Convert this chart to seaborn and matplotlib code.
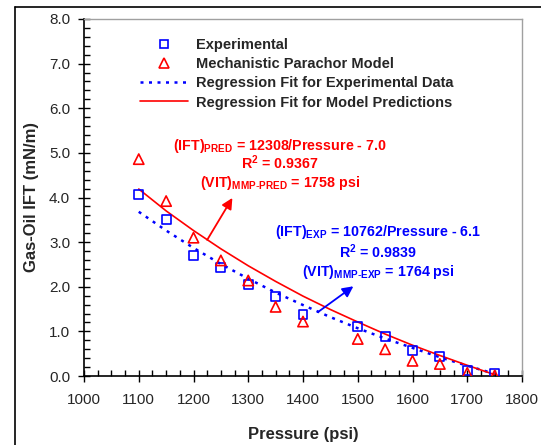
import matplotlib
matplotlib.use('Agg')
import matplotlib.pyplot as plt
from matplotlib.ticker import MultipleLocator, FormatStrFormatter
from matplotlib.lines import Line2D
import seaborn as sns
import pandas as pd

sns.set_style('white')
plt.rcParams['font.family'] = ['Liberation Sans', 'DejaVu Sans']

p_exp = [1100, 1150, 1200, 1250, 1300, 1350, 1400, 1500, 1550, 1600, 1650, 1700, 1750]
ift_exp = [4.06, 3.50, 2.70, 2.44, 2.05, 1.79, 1.37, 1.11, 0.88, 0.57, 0.43, 0.13, 0.06]
p_mod = [1100, 1150, 1200, 1250, 1300, 1350, 1400, 1500, 1550, 1600, 1650, 1700, 1750]
ift_mod = [4.86, 3.92, 3.10, 2.59, 2.14, 1.55, 1.22, 0.83, 0.60, 0.34, 0.27, 0.07, 0.01]

# regression curves
p_fit = [1100, 1150, 1200, 1250, 1300, 1350, 1400, 1450, 1500, 1550, 1600, 1650, 1700, 1750]
fit_exp = [3.68, 3.26, 2.87, 2.51, 2.18, 1.87, 1.59, 1.32, 1.07, 0.84, 0.63, 0.42, 0.23, 0.05]
fit_mod = [4.19, 3.70, 3.26, 2.85, 2.47, 2.12, 1.79, 1.49, 1.21, 0.94, 0.69, 0.46, 0.24, 0.03]

exp_df = pd.DataFrame({'Pressure': p_exp, 'IFT': ift_exp})
mod_df = pd.DataFrame({'Pressure': p_mod, 'IFT': ift_mod})
fit_df = pd.DataFrame({'Pressure': p_fit, 'exp': fit_exp, 'mod': fit_mod})

BLUE = '#0000ff'
RED = '#ff0000'

fig = plt.figure(figsize=(5.41, 4.45), dpi=100)
ax = fig.add_axes([84/541, 1-376/445, 438/541, 357/445])

sns.lineplot(data=fit_df, x='Pressure', y='exp', ax=ax, color=BLUE, lw=1.8,
             dashes=False, linestyle=(0, (1.2, 2.2)), zorder=2)
sns.lineplot(data=fit_df, x='Pressure', y='mod', ax=ax, color=RED, lw=1.2, zorder=2)
sns.scatterplot(data=exp_df, x='Pressure', y='IFT', ax=ax, marker='s', s=40,
                facecolor='none', edgecolor=BLUE, linewidth=1.2, zorder=3)
sns.scatterplot(data=mod_df, x='Pressure', y='IFT', ax=ax, marker='^', s=55,
                facecolor='none', edgecolor=RED, linewidth=1.2, zorder=3)

ax.set_xlim(1000, 1800)
ax.set_ylim(0, 8)
ax.xaxis.set_major_locator(MultipleLocator(100))
ax.xaxis.set_minor_locator(MultipleLocator(25))
ax.yaxis.set_major_locator(MultipleLocator(1))
ax.yaxis.set_minor_locator(MultipleLocator(0.2))
ax.yaxis.set_major_formatter(FormatStrFormatter('%.1f'))
ax.tick_params(which='major', direction='inout', length=8, width=1, color='black',
               labelsize=11, pad=6, bottom=True, left=True)
ax.tick_params(axis='x', which='major', pad=8)
ax.tick_params(which='minor', direction='in', length=4, width=1, color='black',
               bottom=True, left=True)
for s in ['left', 'bottom']:
    ax.spines[s].set_color('black')
    ax.spines[s].set_linewidth(1.2)
for s in ['top', 'right']:
    ax.spines[s].set_color('#a0a0a0')
    ax.spines[s].set_linewidth(1.0)

ax.set_xlabel('Pressure (psi)', fontsize=12, fontweight='bold', labelpad=15)
ax.set_ylabel('Gas-Oil IFT (mN/m)', fontsize=12, fontweight='bold', labelpad=7)

handles = [
    Line2D([], [], ls='none', marker='s', ms=6, mfc='none', mec=BLUE, mew=1.2),
    Line2D([], [], ls='none', marker='^', ms=7, mfc='none', mec=RED, mew=1.2),
    Line2D([], [], color=BLUE, lw=1.8, ls=(0, (1.2, 2.2))),
    Line2D([], [], color=RED, lw=1.2),
]
labels = ['Experimental', 'Mechanistic Parachor Model',
          'Regression Fit for Experimental Data', 'Regression Fit for Model Predictions']
ax.legend(handles, labels, loc='upper left', bbox_to_anchor=(0.128, 0.946),
          frameon=False, prop={'weight': 'bold', 'size': 10.5},
          handlelength=3.3, handletextpad=0.55, labelspacing=0.35, borderpad=0,
          borderaxespad=0)

tkw = dict(ha='center', va='center', fontsize=10.3, fontweight='bold')
ax.text(1358, 5.16, r'(IFT)$_\mathregular{PRED}$ = 12308/Pressure - 7.0', color=RED, **tkw)
ax.text(1358, 4.77, r'R$^\mathregular{2}$ = 0.9367', color=RED, **tkw)
ax.text(1358, 4.32, r'(VIT)$_\mathregular{MMP\text{-}PRED}$ = 1758 psi', color=RED, **tkw)
ax.text(1537, 3.22, r'(IFT)$_\mathregular{EXP}$ = 10762/Pressure - 6.1', color=BLUE, **tkw)
ax.text(1537, 2.79, r'R$^\mathregular{2}$ = 0.9839', color=BLUE, **tkw)
ax.text(1537, 2.34, r'(VIT)$_\mathregular{MMP\text{-}EXP}$ = 1764 psi', color=BLUE, **tkw)

ax.annotate('', xy=(1271, 3.99), xytext=(1225, 3.05),
            arrowprops=dict(arrowstyle='-|>', color=RED, lw=1.3, mutation_scale=16,
                            shrinkA=0, shrinkB=0))
ax.annotate('', xy=(1492, 2.01), xytext=(1427, 1.43),
            arrowprops=dict(arrowstyle='-|>', color=BLUE, lw=1.3, mutation_scale=16,
                            shrinkA=0, shrinkB=0))

# outer frame of the figure (only left and top edges visible)
fig.add_artist(Line2D([15/541, 15/541], [0, 1-7/445], color='black', lw=1.2,
                      transform=fig.transFigure))
fig.add_artist(Line2D([15/541, 1], [1-7/445, 1-7/445], color='black', lw=1.2,
                      transform=fig.transFigure))

fig.savefig('out.png', dpi=100)
